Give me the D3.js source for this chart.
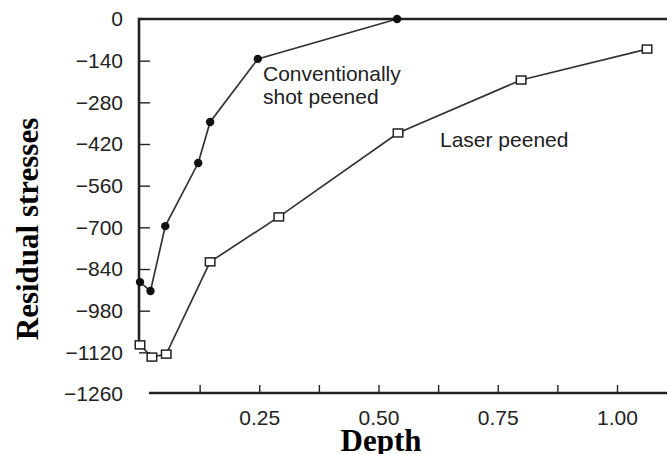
<!DOCTYPE html>
<html>
<head>
<meta charset="utf-8">
<script src="https://cdn.jsdelivr.net/npm/d3@7"></script>
<style>
  html, body { margin: 0; padding: 0; background: #fff; }
  svg { display: block; }
</style>
</head>
<body>
<svg id="chart" width="667" height="454"></svg>
<script>
// ---- Data ----
const shotDepth  = [0, 0.022, 0.053, 0.122, 0.147, 0.247, 0.539];
const shotStress = [-884, -914, -696, -484, -346, -134, 0];

const laserDepth  = [0, 0.025, 0.055, 0.147, 0.291, 0.541, 0.799, 1.063];
const laserStress = [-1095, -1136, -1126, -816, -665, -383, -205, -101];

const yTickValues = [0, -140, -280, -420, -560, -700, -840, -980, -1120, -1260];
const xTickValues = [0.125, 0.25, 0.375, 0.5, 0.625, 0.75, 0.875, 1.0];
const xLabelValues = [0.25, 0.5, 0.75, 1.0];

const seriesLabels = { shot: ["Conventionally", "shot peened"], laser: ["Laser peened"] };
const xTitle = "Depth";
const yTitle = "Residual stresses";

// ---- Layout ----
const svg = d3.select("#chart");
const W = 667;
const x = d3.scaleLinear().domain([0, 1]).range([140, 617]);
const y = d3.scaleLinear().domain([0, -1260]).range([19, 394]);

const ink = "#222";
const lineInk = "#333";

// top frame line
svg.append("line")
  .attr("x1", x(0) - 1).attr("x2", W)
  .attr("y1", y(0)).attr("y2", y(0))
  .attr("stroke", ink).attr("stroke-width", 2.6);

// left axis line (stops above the bottom)
svg.append("line")
  .attr("x1", x(0) - 1).attr("x2", x(0) - 1)
  .attr("y1", y(0) - 1.3).attr("y2", y(-1110))
  .attr("stroke", ink).attr("stroke-width", 2.6);

// bottom axis line (starts right of the left axis)
svg.append("line")
  .attr("x1", 149).attr("x2", W)
  .attr("y1", y(-1260) - 1).attr("y2", y(-1260) - 1)
  .attr("stroke", ink).attr("stroke-width", 2.6);

// Y axis labels and ticks
const yAxis = d3.axisLeft(y)
  .tickValues(yTickValues)
  .tickSizeInner(-11)
  .tickSizeOuter(0)
  .tickPadding(16)
  .tickFormat(d3.format("d"));
const gy = svg.append("g").attr("transform", `translate(${x(0) - 1},0)`).call(yAxis);
gy.select(".domain").remove();
gy.selectAll(".tick line")
  .attr("stroke", ink).attr("stroke-width", 1.4)
  .attr("display", d => (d === 0 || d === -1260) ? "none" : null);
gy.selectAll(".tick text")
  .attr("fill", ink)
  .style("font-family", "'Liberation Sans', Arial, Helvetica, sans-serif")
  .style("font-size", "21px");

// X axis labels and ticks
const xAxis = d3.axisBottom(x)
  .tickValues(xTickValues)
  .tickSizeInner(-8)
  .tickSizeOuter(0)
  .tickPadding(17)
  .tickFormat(d => xLabelValues.includes(d) ? d3.format(".2f")(d) : "");
const gx = svg.append("g").attr("transform", `translate(0,${y(-1260) - 1})`).call(xAxis);
gx.select(".domain").remove();
gx.selectAll(".tick line").attr("stroke", ink).attr("stroke-width", 1.4);
gx.selectAll(".tick text")
  .attr("fill", ink)
  .style("font-family", "'Liberation Sans', Arial, Helvetica, sans-serif")
  .style("font-size", "21px");

// Series lines
const line = d3.line().x(d => x(d[0])).y(d => y(d[1]));
const shotData = shotDepth.map((d, i) => [d, shotStress[i]]);
const laserData = laserDepth.map((d, i) => [d, laserStress[i]]);

svg.append("path").datum(shotData)
  .attr("d", line).attr("fill", "none")
  .attr("stroke", lineInk).attr("stroke-width", 1.7);
svg.append("path").datum(laserData)
  .attr("d", line).attr("fill", "none")
  .attr("stroke", lineInk).attr("stroke-width", 1.7);

// markers
svg.selectAll("circle.shot").data(shotData).enter().append("circle")
  .attr("class", "shot")
  .attr("cx", d => x(d[0])).attr("cy", d => y(d[1]))
  .attr("r", 4.2).attr("fill", "#111");

const sqW = 9.5, sqH = 8;
svg.selectAll("rect.laser").data(laserData).enter().append("rect")
  .attr("class", "laser")
  .attr("x", d => x(d[0]) - sqW / 2).attr("y", d => y(d[1]) - sqH / 2)
  .attr("width", sqW).attr("height", sqH)
  .attr("fill", "#fff").attr("stroke", "#222").attr("stroke-width", 1.5);

// series annotations
const annFont = "'Liberation Sans', Arial, Helvetica, sans-serif";
const shotText = svg.append("text")
  .attr("x", 263).attr("y", 81)
  .attr("fill", ink)
  .style("font-family", annFont).style("font-size", "21px");
shotText.selectAll("tspan").data(seriesLabels.shot).enter().append("tspan")
  .attr("x", 263).attr("dy", (d, i) => i === 0 ? 0 : 23)
  .text(d => d);

svg.append("text")
  .attr("x", 440).attr("y", 147)
  .attr("fill", ink)
  .style("font-family", annFont).style("font-size", "21px")
  .text(seriesLabels.laser[0]);

// axis titles
svg.append("text")
  .attr("x", 381).attr("y", 451)
  .attr("text-anchor", "middle")
  .attr("fill", "#000")
  .style("font-family", "'Liberation Serif', 'Times New Roman', serif")
  .style("font-weight", "bold").style("font-size", "31px")
  .text(xTitle);

svg.append("text")
  .attr("transform", "translate(38,229) rotate(-90)")
  .attr("text-anchor", "middle")
  .attr("fill", "#000")
  .style("font-family", "'Liberation Serif', 'Times New Roman', serif")
  .style("font-weight", "bold").style("font-size", "31px")
  .text(yTitle);
</script>
</body>
</html>
